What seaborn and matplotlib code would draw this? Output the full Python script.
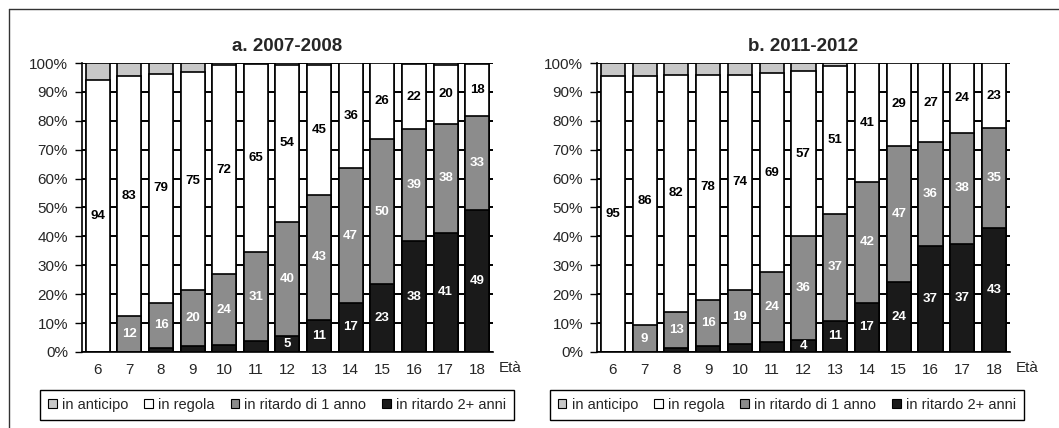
import numpy as np
import pandas as pd
import seaborn as sns
import matplotlib.pyplot as plt
from matplotlib.patches import Patch
from matplotlib.lines import Line2D

# eta' (ages) on the x axis
ages = ['6', '7', '8', '9', '10', '11', '12', '13', '14', '15', '16', '17', '18']

# a. 2007-2008  (% of pupils)
rit2_a = [0, 0, 1.4, 2.0, 2.5, 3.8, 5.4, 11.2, 17.0, 23.4, 38.4, 41.2, 49.0]
rit1_a = [0, 12.4, 15.6, 19.6, 24.4, 30.8, 39.6, 43.0, 46.6, 50.4, 38.8, 37.8, 32.6]
regola_a = [94.0, 83.2, 79.2, 75.2, 72.4, 65.0, 54.4, 45.2, 36.4, 26.2, 22.4, 20.4, 18.2]
anticipo_a = [6.0, 4.4, 3.8, 3.2, 0.7, 0.4, 0.6, 0.6, 0, 0, 0.4, 0.6, 0.2]

# b. 2011-2012
rit2_b = [0, 0, 1.4, 2.0, 2.8, 3.4, 4.2, 10.8, 17.0, 24.2, 36.8, 37.4, 42.8]
rit1_b = [0, 9.2, 12.6, 16.0, 18.8, 24.2, 35.8, 37.0, 41.8, 47.2, 35.8, 38.4, 34.6]
regola_b = [95.4, 86.4, 82.0, 78.0, 74.4, 69.0, 57.2, 51.0, 41.2, 28.6, 27.4, 24.2, 22.6]
anticipo_b = [4.6, 4.4, 4.0, 4.0, 4.0, 3.4, 2.8, 1.2, 0, 0, 0, 0, 0]

labels = ['in anticipo', 'in regola', 'in ritardo di 1 anno', 'in ritardo 2+ anni']
colors = ['#c8c8c8', '#ffffff', '#8c8c8c', '#1a1a1a']

sns.set_style('white')
plt.rcParams['font.family'] = ['Liberation Sans', 'DejaVu Sans']


def draw_panel(ax, title, rit2, rit1, regola, anticipo, leg_x):
    df = pd.DataFrame({'eta': ages, 'rit2': rit2, 'rit1': rit1,
                       'regola': regola, 'anticipo': anticipo})
    # cumulative heights, drawn tallest first so they stack visually
    df['c_rit2'] = df['rit2']
    df['c_rit1'] = df['c_rit2'] + df['rit1']
    df['c_regola'] = df['c_rit1'] + df['regola']
    df['c_anticipo'] = df['c_regola'] + df['anticipo']

    for col, colr in zip(['c_anticipo', 'c_regola', 'c_rit1', 'c_rit2'], colors):
        sns.barplot(data=df, x='eta', y=col, order=ages, color=colr, saturation=1,
                    edgecolor='black', linewidth=1.2, width=0.76, ax=ax, zorder=3)

    # value labels
    for i, r in df.iterrows():
        ax.text(i, r['c_rit1'] + r['regola'] / 2, f"{r['regola']:.0f}", ha='center', va='center',
                fontsize=9.5, fontweight='bold', color='black', zorder=5)
        if r['rit1'] > 0:
            ax.text(i, r['c_rit2'] + r['rit1'] / 2, f"{r['rit1']:.0f}", ha='center', va='center',
                    fontsize=9.5, fontweight='bold', color='white', zorder=5)
        if r['rit2'] >= 4:
            ax.text(i, r['rit2'] / 2, f"{r['rit2']:.0f}", ha='center', va='center',
                    fontsize=9.5, fontweight='bold', color='white', zorder=5)

    ax.set_ylim(0, 100)
    ax.set_xlim(-0.5, len(ages) - 0.5)
    ax.set_yticks(np.arange(0, 101, 10))
    ax.set_yticklabels([f'{v}%' for v in range(0, 101, 10)])
    ax.yaxis.grid(True, color='black', linewidth=1.4)
    ax.set_axisbelow(True)
    ax.set_xticks(np.arange(-0.5, len(ages), 1), minor=True)
    ax.tick_params(axis='x', which='major', length=0, pad=8, labelsize=11)
    ax.tick_params(axis='x', which='minor', length=5, width=1, color='black', direction='out')
    ax.tick_params(axis='y', length=5, width=1, color='black', direction='out', pad=5, labelsize=11,
                   left=True)
    for s in ['top', 'right']:
        ax.spines[s].set_visible(False)
    for s in ['left', 'bottom']:
        ax.spines[s].set_color('black')
        ax.spines[s].set_linewidth(1.2)
    ax.set_xlabel('')
    ax.set_ylabel('')
    ax.set_title(title, fontsize=13.5, fontweight='bold', pad=9)
    ax.text(1.015, -0.057, 'Età', transform=ax.transAxes, ha='left', va='center', fontsize=11)

    handles = [Patch(facecolor=c, edgecolor='black', linewidth=0.8) for c in colors]
    leg = ax.legend(handles, labels, loc='upper center', bbox_to_anchor=(leg_x, -0.105), ncol=4,
                    fontsize=10.5, frameon=True, fancybox=False, framealpha=1, edgecolor='black',
                    handlelength=0.6, handleheight=0.6, handletextpad=0.35, columnspacing=1.1,
                    borderpad=0.55)
    leg.get_frame().set_linewidth(1.0)


fig = plt.figure(figsize=(10.59, 4.28), dpi=100)
ax1 = fig.add_axes([0.0774, 0.1776, 0.3881, 0.6752])
ax2 = fig.add_axes([0.5637, 0.1776, 0.3900, 0.6752])

draw_panel(ax1, 'a. 2007-2008', rit2_a, rit1_a, regola_a, anticipo_a, 0.475)
draw_panel(ax2, 'b. 2011-2012', rit2_b, rit1_b, regola_b, anticipo_b, 0.46)

# outer frame (top and left edges visible)
fig.add_artist(Line2D([0.0085, 0.0085], [0, 0.979], color='#333333', linewidth=1.0))
fig.add_artist(Line2D([0.0085, 1.0], [0.979, 0.979], color='#333333', linewidth=1.0))

fig.savefig('out.png', dpi=100)
